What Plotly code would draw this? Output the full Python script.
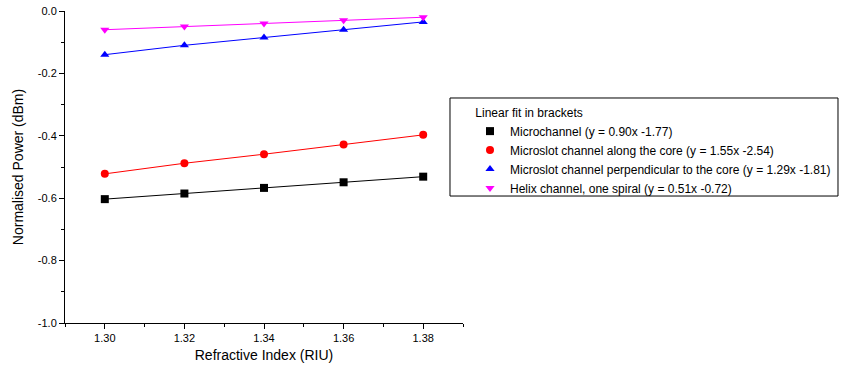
import plotly.graph_objects as go

ri = [1.30, 1.32, 1.34, 1.36, 1.38]
microchannel = [-0.603, -0.585, -0.567, -0.549, -0.531]
slot_along = [-0.522, -0.488, -0.459, -0.428, -0.397]
slot_perp = [-0.140, -0.110, -0.085, -0.060, -0.035]
helix = [-0.060, -0.050, -0.040, -0.030, -0.020]

names = [
    "Microchannel (y = 0.90x -1.77)",
    "Microslot channel along the core (y = 1.55x -2.54)",
    "Microslot channel perpendicular to the core (y = 1.29x -1.81)",
    "Helix channel, one spiral (y = 0.51x -0.72)",
]
colors = ["#000000", "#ff0000", "#0000ff", "#ff00ff"]
symbols = ["square", "circle", "triangle-up", "triangle-down"]
series = [microchannel, slot_along, slot_perp, helix]

fig = go.Figure()
for name, ys, c in zip(names, series, colors):
    fig.add_trace(go.Scatter(
        x=ri, y=ys, mode="lines", name=name, showlegend=False,
        line=dict(color=c, width=1), hoverinfo="skip",
    ))
for name, ys, c, s in zip(names, series, colors, symbols):
    fig.add_trace(go.Scatter(
        x=ri, y=ys, mode="markers", name=name,
        marker=dict(color=c, symbol=s, size=8),
    ))

font = "Liberation Sans, Arial, sans-serif"
fig.update_layout(
    width=843, height=371,
    margin=dict(l=65, r=380, t=11, b=48, autoexpand=False),
    paper_bgcolor="white", plot_bgcolor="white",
    font=dict(family=font, size=11, color="#000"),
    showlegend=True,
    legend=dict(
        x=1.0176, y=0.7115, xanchor="left", yanchor="top",
        borderwidth=0, bgcolor="rgba(0,0,0,0)",
        title=dict(text="&nbsp;Linear fit in brackets", font=dict(size=12)),
        font=dict(size=12), tracegroupgap=0, itemwidth=30,
    ),
    shapes=[dict(type="rect", xref="paper", yref="paper",
                 x0=0.9673, x1=1.9422, y0=0.407, y1=0.7212,
                 line=dict(color="#000", width=1), fillcolor="rgba(0,0,0,0)")],
    xaxis=dict(
        range=[1.29, 1.39], tickvals=[1.30, 1.32, 1.34, 1.36, 1.38],
        ticktext=["1.30", "1.32", "1.34", "1.36", "1.38"], automargin=False,
        showgrid=False, zeroline=False, showline=True, linecolor="#000", linewidth=1,
        ticks="outside", ticklen=5, tickcolor="#000",
        minor=dict(ticks="outside", ticklen=3, dtick=0.01, tick0=1.29, tickcolor="#000"),
        title=dict(text="Refractive Index (RIU)", font=dict(size=14), standoff=6),
        tickfont=dict(size=11),
    ),
    yaxis=dict(
        range=[-1.0, 0.0], tickvals=[-1.0, -0.8, -0.6, -0.4, -0.2, 0.0],
        ticktext=["-1.0", "-0.8", "-0.6", "-0.4", "-0.2", "0.0"], automargin=False,
        showgrid=False, zeroline=False, showline=True, linecolor="#000", linewidth=1,
        ticks="outside", ticklen=5, tickcolor="#000",
        minor=dict(ticks="outside", ticklen=3, dtick=0.1, tick0=0, tickcolor="#000"),
        title=dict(text="Normalised Power (dBm)", font=dict(size=14), standoff=10),
        tickfont=dict(size=11),
    ),
)
fig.write_html("out.html", config={"displayModeBar": False},
               post_script="document.body.style.margin='0';")
